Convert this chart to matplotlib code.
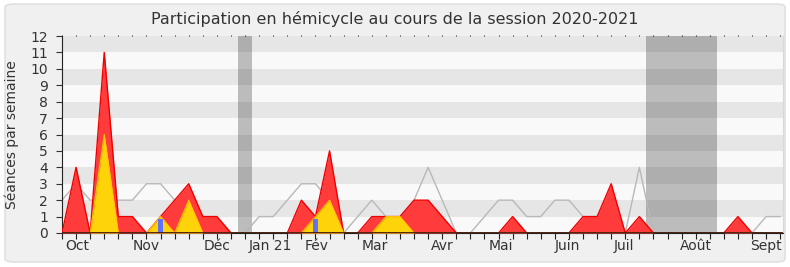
"""
Participation en hémicycle au cours de la session 2020-2021.

Weekly area chart: total presence (red), commission presence (yellow),
interventions (blue bars) and the median of all deputies (grey line),
with parliamentary holidays shaded.
"""

import numpy as np
import matplotlib
matplotlib.use("Agg")
import matplotlib.pyplot as plt
import matplotlib.transforms as mtransforms
from matplotlib.patches import FancyBboxPatch

# ── Data (one value per week, week 0 = end of September 2020) ─────────────────
weeks = np.arange(52)

presence = [0, 4, 0, 11, 1, 1, 0, 1, 2, 3, 1, 1, 0, 0, 0, 0, 0, 2, 1, 5,
            0, 0, 1, 1, 1, 2, 2, 1, 0, 0, 0, 0, 1, 0, 0, 0, 0, 1, 1, 3,
            0, 1, 0, 0, 0, 0, 0, 0, 1, 0, 0, 0]

commission = [0, 0, 0, 6, 0, 0, 0, 1, 0, 2, 0, 0, 0, 0, 0, 0, 0, 0, 1, 2,
              0, 0, 0, 1, 1, 0, 0, 0, 0, 0, 0, 0, 0, 0, 0, 0, 0, 0, 0, 0,
              0, 0, 0, 0, 0, 0, 0, 0, 0, 0, 0, 0]

median = [2, 3, 2, 2, 2, 2, 3, 3, 2, 2, 1, 1, 0, 0, 1, 1, 2, 3, 3, 2,
          0, 1, 2, 1, 1, 2, 4, 2, 0, 0, 1, 2, 2, 1, 1, 2, 2, 1, 1, 2,
          0, 4, 0, 0, 0, 0, 0, 0, 0, 0, 1, 1]

interventions_weeks = [7, 18]
interventions = [1, 1]

holidays = [(12.5, 13.5), (41.5, 46.5)]

month_labels = ["Oct", "Nov", "Déc", "Jan 21", "Fév", "Mar", "Avr",
                "Mai", "Juin", "Juil", "Août", "Sept"]
month_weeks = [1.1, 6, 11, 14.8, 18.1, 22.2, 27, 31.2, 35.9, 39.9, 45, 50]

YMAX = 12

# ── Figure ────────────────────────────────────────────────────────────────────
fig = plt.figure(figsize=(7.9, 2.67), dpi=100)
fig.patch.set_facecolor("white")
fig.patches.append(FancyBboxPatch(
    (5 / 790, 5 / 267), 780 / 790, 258 / 267,
    boxstyle="round,pad=0,rounding_size=0.012",
    transform=fig.transFigure, facecolor="#F0F0F0",
    edgecolor="#DCDCDC", linewidth=1.0, zorder=-10))

ax = fig.add_axes([62 / 790, 34 / 267, 721 / 790, 197 / 267])
ax.set_facecolor("#F9F9F9")
ax.set_xlim(0, 51.2)
ax.set_ylim(0, YMAX)

# Alternating horizontal stripes
for y in range(1, YMAX, 2):
    ax.axhspan(y, y + 1, color="#E6E6E6", lw=0, zorder=0)

# Holidays
for x0, x1 in holidays:
    ax.axvspan(x0, x1, color="black", alpha=0.245, lw=0, zorder=1)

# Median line
ax.plot(weeks, median, color="#B8B8B8", lw=1.0, zorder=2)

# Presence areas
ax.fill_between(weeks, presence, color="#FF3B3B", lw=0, zorder=3)
ax.plot(weeks, presence, color="#F00000", lw=1.0, zorder=3)
ax.fill_between(weeks, commission, color="#FFD30A", lw=0, zorder=4)
ax.plot(weeks, commission, color="#FFC800", lw=0.8, zorder=4)

# Interventions
ax.bar(interventions_weeks, np.array(interventions) - 0.12, width=0.33,
       color="#6272F7", zorder=5)

ax.axhline(0, color="#301010", lw=1.2, zorder=6)

# Axes styling
ax.set_yticks(range(0, YMAX + 1))
ax.tick_params(axis="y", direction="out", length=4, width=0.8,
               labelsize=10, colors="#333333", pad=6)
ax.set_xticks(weeks)
ax.set_xticklabels([])
ax.tick_params(axis="x", which="major", direction="out", length=4,
               width=0.8, top=True, color="#222222")

# top ticks only as small dots
for t in ax.xaxis.get_major_ticks():
    t.tick2line.set_markersize(1.0)

# month labels under the weekly ticks
trans = mtransforms.blended_transform_factory(ax.transData, ax.transAxes)
for pos, lab in zip(month_weeks, month_labels):
    ax.text(pos, -0.03, lab, transform=trans, ha="center", va="top",
            fontsize=10, color="#333333")

ax.spines["top"].set_visible(False)
ax.spines["right"].set_color("#D8D8D8")
ax.spines["left"].set_color("#222222")
ax.spines["bottom"].set_color("#222222")

ax.set_ylabel("Séances par semaine", fontsize=10, color="#333333", labelpad=8)
fig.text(0.5, 0.93, "Participation en hémicycle au cours de la session 2020-2021",
         ha="center", va="center", fontsize=11.5, color="#333333")

fig.savefig("out.png", dpi=100, facecolor=fig.get_facecolor())
